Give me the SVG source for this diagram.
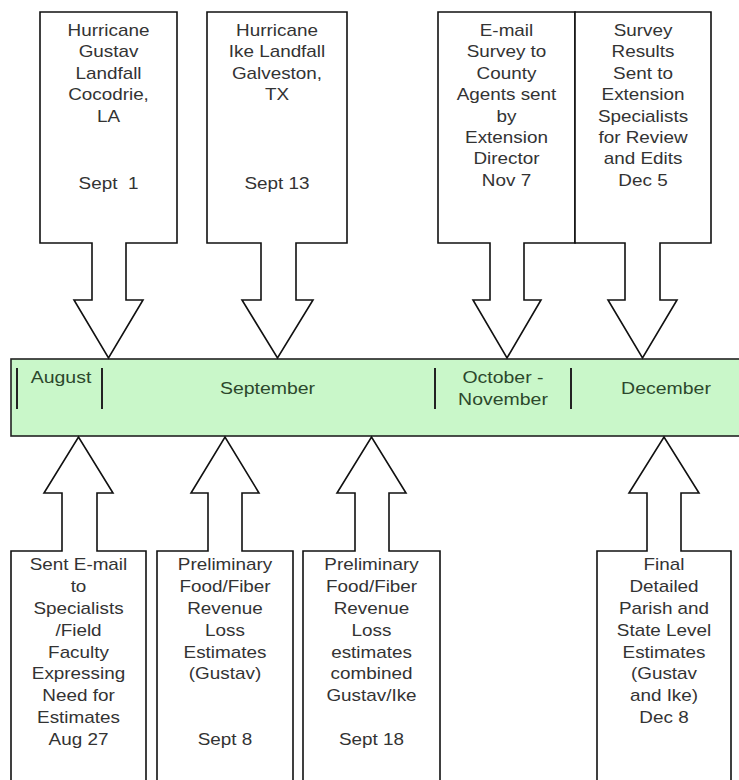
<svg xmlns="http://www.w3.org/2000/svg" width="739" height="780" viewBox="0 0 739 780">
<style>
.shape{fill:#fff;stroke:#111;stroke-width:1.6;stroke-linejoin:miter}
.bar{fill:#c9f7c9;stroke:#222;stroke-width:1.6}
.div{stroke:#222;stroke-width:2}
.t{font-family:"Liberation Sans",Arial,sans-serif;font-size:16px;fill:#333;text-anchor:middle}
.m{font-family:"Liberation Sans",Arial,sans-serif;font-size:16.5px;fill:#2c482c;text-anchor:middle}
</style>
<rect width="739" height="780" fill="#fff"/>
<g id="timeline">
<rect class="bar" x="11" y="359" width="740" height="77"/>
<line class="div" x1="17" y1="368" x2="17" y2="409"/>
<line class="div" x1="102" y1="368" x2="102" y2="409"/>
<line class="div" x1="435" y1="368" x2="435" y2="409"/>
<line class="div" x1="571" y1="368" x2="571" y2="409"/>
<g transform="translate(61 0) scale(1.18 1)"><text class="m" x="0" y="383">August</text></g>
<g transform="translate(267.5 0) scale(1.18 1)"><text class="m" x="0" y="394">September</text></g>
<g transform="translate(503 0) scale(1.18 1)"><text class="m" x="0" y="383">October -</text><text class="m" x="0" y="405">November</text></g>
<g transform="translate(666 0) scale(1.18 1)"><text class="m" x="0" y="394">December</text></g>
</g>
<g id="connectors"></g>
<g id="gustav-landfall">
<polygon class="shape" points="40,12 177,12 177,243 126,243 126,300 143,300 108.5,358 74,300 92,300 92,243 40,243"/>
<g transform="translate(108.5 0) scale(1.18 1)"><text class="t" x="0" y="36">Hurricane</text><text class="t" x="0" y="57.5">Gustav</text><text class="t" x="0" y="79">Landfall</text><text class="t" x="0" y="100.5">Cocodrie,</text><text class="t" x="0" y="122">LA</text><text class="t" x="0" y="189" xml:space="preserve">Sept  1</text></g>
</g>
<g id="ike-landfall">
<polygon class="shape" points="207,12 347,12 347,243 296,243 296,300 313,300 277.5,358 242,300 261,300 261,243 207,243"/>
<g transform="translate(277 0) scale(1.18 1)"><text class="t" x="0" y="36">Hurricane</text><text class="t" x="0" y="57.5">Ike Landfall</text><text class="t" x="0" y="79">Galveston,</text><text class="t" x="0" y="100.5">TX</text><text class="t" x="0" y="189">Sept 13</text></g>
</g>
<g id="email-survey">
<polygon class="shape" points="438,12 575,12 575,243 524,243 524,300 541,300 507,358 473,300 490,300 490,243 438,243"/>
<g transform="translate(506.5 0) scale(1.18 1)"><text class="t" x="0" y="36">E-mail</text><text class="t" x="0" y="57.4">Survey to</text><text class="t" x="0" y="78.8">County</text><text class="t" x="0" y="100.2">Agents sent</text><text class="t" x="0" y="121.6">by</text><text class="t" x="0" y="143">Extension</text><text class="t" x="0" y="164.4">Director</text><text class="t" x="0" y="185.8">Nov 7</text></g>
</g>
<g id="survey-results">
<polygon class="shape" points="575,12 711,12 711,243 660,243 660,300 677,300 642.5,358 608,300 625,300 625,243 575,243"/>
<g transform="translate(643 0) scale(1.18 1)"><text class="t" x="0" y="36">Survey</text><text class="t" x="0" y="57.4">Results</text><text class="t" x="0" y="78.8">Sent to</text><text class="t" x="0" y="100.2">Extension</text><text class="t" x="0" y="121.6">Specialists</text><text class="t" x="0" y="143">for Review</text><text class="t" x="0" y="164.4">and Edits</text><text class="t" x="0" y="185.8">Dec 5</text></g>
</g>
<g id="sent-email">
<polygon class="shape" points="11,790 11,551 62,551 62,493 44,493 78.5,437 113,493 97,493 97,551 146,551 146,790"/>
<g transform="translate(78.5 0) scale(1.18 1)"><text class="t" x="0" y="570">Sent E-mail</text><text class="t" x="0" y="591.9">to</text><text class="t" x="0" y="613.8">Specialists</text><text class="t" x="0" y="635.7">/Field</text><text class="t" x="0" y="657.6">Faculty</text><text class="t" x="0" y="679.5">Expressing</text><text class="t" x="0" y="701.4">Need for</text><text class="t" x="0" y="723.3">Estimates</text><text class="t" x="0" y="745.2">Aug 27</text></g>
</g>
<g id="prelim-gustav">
<polygon class="shape" points="157,790 157,551 208,551 208,493 191,493 225,437 259,493 242,493 242,551 293,551 293,790"/>
<g transform="translate(225 0) scale(1.18 1)"><text class="t" x="0" y="570">Preliminary</text><text class="t" x="0" y="591.9">Food/Fiber</text><text class="t" x="0" y="613.8">Revenue</text><text class="t" x="0" y="635.7">Loss</text><text class="t" x="0" y="657.6">Estimates</text><text class="t" x="0" y="679.5">(Gustav)</text><text class="t" x="0" y="745.2">Sept 8</text></g>
</g>
<g id="prelim-combined">
<polygon class="shape" points="303,790 303,551 355,551 355,493 337,493 371.5,437 406,493 389,493 389,551 440,551 440,790"/>
<g transform="translate(371.5 0) scale(1.18 1)"><text class="t" x="0" y="570">Preliminary</text><text class="t" x="0" y="591.9">Food/Fiber</text><text class="t" x="0" y="613.8">Revenue</text><text class="t" x="0" y="635.7">Loss</text><text class="t" x="0" y="657.6">estimates</text><text class="t" x="0" y="679.5">combined</text><text class="t" x="0" y="701.4">Gustav/Ike</text><text class="t" x="0" y="745.2">Sept 18</text></g>
</g>
<g id="final-estimates">
<polygon class="shape" points="597,790 597,551 647,551 647,493 629,493 664,437 699,493 681,493 681,551 731,551 731,790"/>
<g transform="translate(664 0) scale(1.18 1)"><text class="t" x="0" y="570">Final</text><text class="t" x="0" y="591.9">Detailed</text><text class="t" x="0" y="613.8">Parish and</text><text class="t" x="0" y="635.7">State Level</text><text class="t" x="0" y="657.6">Estimates</text><text class="t" x="0" y="679.5">(Gustav</text><text class="t" x="0" y="701.4">and Ike)</text><text class="t" x="0" y="723.3">Dec 8</text></g>
</g>
</svg>
